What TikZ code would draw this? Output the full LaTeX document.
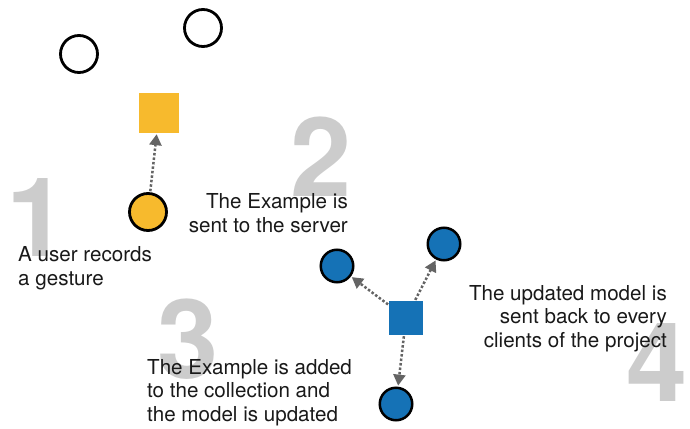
\documentclass[tikz,border=0pt]{standalone}
\usepackage{fontspec}
\setmainfont{TeX Gyre Heros}
\usetikzlibrary{arrows.meta}
\definecolor{ylw}{RGB}{247,186,45}
\definecolor{blu}{RGB}{21,114,182}
\definecolor{numgray}{RGB}{204,204,204}
\definecolor{arrgray}{RGB}{100,100,100}
\tikzset{
  bignum/.style={text=numgray, font=\fontsize{110}{110}\selectfont\bfseries, inner sep=0pt, anchor=base},
  lbl/.style={font=\fontsize{20.6}{23.5}\selectfont, inner sep=0pt, text=black!90},
  emptyc/.style={circle, draw=black, line width=2.8pt, fill=white, minimum size=37pt, inner sep=0pt},
  yc/.style={circle, draw=black, line width=2.8pt, fill=ylw, minimum size=37pt, inner sep=0pt},
  bc/.style={circle, draw=black, line width=2.5pt, fill=blu, minimum size=32.5pt, inner sep=0pt},
  ysq/.style={rectangle, fill=ylw, minimum size=40pt, inner sep=0pt},
  bsq/.style={rectangle, fill=blu, minimum size=34pt, inner sep=0pt},
  flow/.style={draw=arrgray, line width=2.5pt, dash pattern=on 2.5pt off 2pt,
    -{Triangle[length=11pt,width=12pt,fill=arrgray]}, shorten >=1pt, shorten <=1pt}
}
\begin{document}
\begin{tikzpicture}[x=1pt,y=-1pt]
\useasboundingbox (0,0) rectangle (690,428);
% big step numbers
\node[bignum] (n1) at (37,256) {1};
\node[bignum] (n2) at (321.5,196) {2};
\node[bignum] (n3) at (188.5,378) {3};
\node[bignum] (n4) at (657.5,401) {4};
% top clients
\node[emptyc] (c1) at (79,54) {};
\node[emptyc] (c2) at (203,28) {};
% step 1/2
\node[ysq] (ys) at (159,113) {};
\node[yc] (yc) at (148,212) {};
\draw[flow] (yc) -- (ys);
% step 3/4
\node[bsq] (bs) at (406,318) {};
\node[bc] (b1) at (337,266) {};
\node[bc] (b2) at (444,244) {};
\node[bc] (b3) at (396,404) {};
\draw[flow] (bs) -- (b1);
\draw[flow] (bs) -- (b2);
\draw[flow] (bs) -- (b3);
% labels (base anchor = baseline of the last line)
\node[lbl, align=left, anchor=base west] (t1) at (18,285) {A user records\\a gesture};
\node[lbl, align=right, anchor=base east] (t2) at (348,232) {The Example is\\sent to the server};
\node[lbl, align=left, anchor=base west] (t3) at (147,421) {The Example is added\\to the collection and\\the model is updated};
\node[lbl, align=right, anchor=base east] (t4) at (667,347) {The updated model is\\sent back to every\\clients of the project};
\end{tikzpicture}
\end{document}
